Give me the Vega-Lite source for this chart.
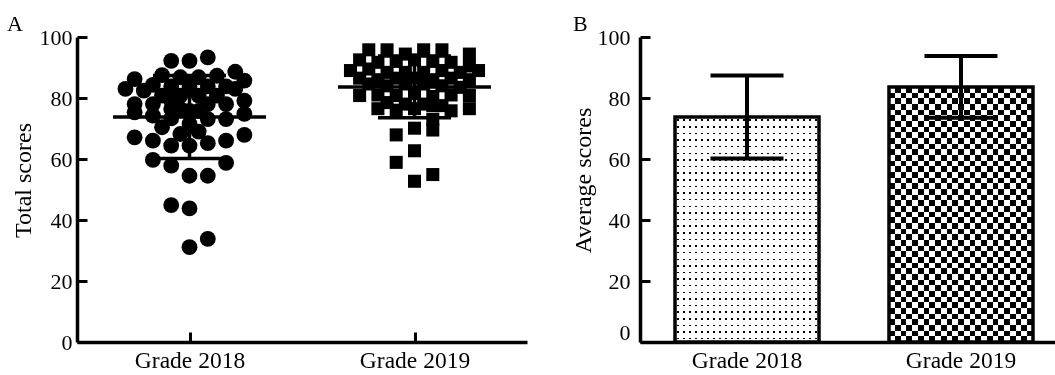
{
  "$schema": "https://vega.github.io/schema/vega-lite/v6.json",
  "background": "white",
  "padding": {"left": 7, "top": 13, "right": 0, "bottom": 0},
  "bounds": "flush",
  "spacing": 113,
  "config": {
    "font": "Liberation Serif",
    "view": {"stroke": null},
    "axis": {
      "domainColor": "black", "domainWidth": 3.5, "tickColor": "black", "tickWidth": 3, "tickSize": -10,
      "labelColor": "black", "labelFontSize": 22, "labelFont": "Liberation Serif",
      "titleFontSize": 24, "titleFontWeight": "normal", "titleColor": "black", "titleFont": "Liberation Serif",
      "grid": false, "zindex": 1
    },
    "axisX": {"labelFontSize": 23.5},
    "title": {"fontSize": 22, "fontWeight": "normal", "font": "Liberation Serif", "color": "black"}
  },
  "datasets": {
    "points": [
      {"grade": "Grade 2018", "slot": -2, "score": 92.2},
      {"grade": "Grade 2018", "slot": 0, "score": 92.2},
      {"grade": "Grade 2018", "slot": 2, "score": 93.3},
      {"grade": "Grade 2018", "slot": -3, "score": 87.5},
      {"grade": "Grade 2018", "slot": -6, "score": 86.2},
      {"grade": "Grade 2018", "slot": 5, "score": 88.6},
      {"grade": "Grade 2018", "slot": 6, "score": 85.7},
      {"grade": "Grade 2018", "slot": 3, "score": 87.3},
      {"grade": "Grade 2018", "slot": -1, "score": 86.8},
      {"grade": "Grade 2018", "slot": 1, "score": 86.8},
      {"grade": "Grade 2018", "slot": -7, "score": 83.0},
      {"grade": "Grade 2018", "slot": -5, "score": 82.4},
      {"grade": "Grade 2018", "slot": -4, "score": 84.3},
      {"grade": "Grade 2018", "slot": -2, "score": 83.8},
      {"grade": "Grade 2018", "slot": 0, "score": 83.8},
      {"grade": "Grade 2018", "slot": 2, "score": 83.8},
      {"grade": "Grade 2018", "slot": 4, "score": 83.8},
      {"grade": "Grade 2018", "slot": 5, "score": 83.0},
      {"grade": "Grade 2018", "slot": -3, "score": 80.8},
      {"grade": "Grade 2018", "slot": -1, "score": 80.8},
      {"grade": "Grade 2018", "slot": 1, "score": 80.8},
      {"grade": "Grade 2018", "slot": 3, "score": 80.8},
      {"grade": "Grade 2018", "slot": -6, "score": 78.0},
      {"grade": "Grade 2018", "slot": -4, "score": 78.0},
      {"grade": "Grade 2018", "slot": -2, "score": 79.1},
      {"grade": "Grade 2018", "slot": 2, "score": 78.0},
      {"grade": "Grade 2018", "slot": 4, "score": 78.0},
      {"grade": "Grade 2018", "slot": 6, "score": 79.1},
      {"grade": "Grade 2018", "slot": -6, "score": 75.3},
      {"grade": "Grade 2018", "slot": -4, "score": 74.2},
      {"grade": "Grade 2018", "slot": -2, "score": 76.4},
      {"grade": "Grade 2018", "slot": -1, "score": 76.4},
      {"grade": "Grade 2018", "slot": 0, "score": 75.8},
      {"grade": "Grade 2018", "slot": 1, "score": 75.8},
      {"grade": "Grade 2018", "slot": -2, "score": 73.3},
      {"grade": "Grade 2018", "slot": 2, "score": 73.1},
      {"grade": "Grade 2018", "slot": 4, "score": 73.1},
      {"grade": "Grade 2018", "slot": 6, "score": 74.8},
      {"grade": "Grade 2018", "slot": -3, "score": 70.4},
      {"grade": "Grade 2018", "slot": 0, "score": 71.5},
      {"grade": "Grade 2018", "slot": -1, "score": 68.2},
      {"grade": "Grade 2018", "slot": 1, "score": 69.0},
      {"grade": "Grade 2018", "slot": -6, "score": 67.1},
      {"grade": "Grade 2018", "slot": -4, "score": 66.0},
      {"grade": "Grade 2018", "slot": -2, "score": 64.4},
      {"grade": "Grade 2018", "slot": 0, "score": 64.4},
      {"grade": "Grade 2018", "slot": 2, "score": 65.2},
      {"grade": "Grade 2018", "slot": 4, "score": 66.0},
      {"grade": "Grade 2018", "slot": 6, "score": 67.9},
      {"grade": "Grade 2018", "slot": -4, "score": 59.7},
      {"grade": "Grade 2018", "slot": -2, "score": 57.8},
      {"grade": "Grade 2018", "slot": 4, "score": 58.7},
      {"grade": "Grade 2018", "slot": 0, "score": 54.5},
      {"grade": "Grade 2018", "slot": 2, "score": 54.5},
      {"grade": "Grade 2018", "slot": -2, "score": 44.9},
      {"grade": "Grade 2018", "slot": 0, "score": 43.8},
      {"grade": "Grade 2018", "slot": 2, "score": 33.8},
      {"grade": "Grade 2018", "slot": 0, "score": 31.1},
      {"grade": "Grade 2019", "slot": -5, "score": 95.8},
      {"grade": "Grade 2019", "slot": -3, "score": 95.8},
      {"grade": "Grade 2019", "slot": 1, "score": 95.8},
      {"grade": "Grade 2019", "slot": 3, "score": 95.8},
      {"grade": "Grade 2019", "slot": -1, "score": 94.4},
      {"grade": "Grade 2019", "slot": 6, "score": 94.4},
      {"grade": "Grade 2019", "slot": -6, "score": 92.5},
      {"grade": "Grade 2019", "slot": -4, "score": 91.7},
      {"grade": "Grade 2019", "slot": -2, "score": 92.0},
      {"grade": "Grade 2019", "slot": 0, "score": 92.5},
      {"grade": "Grade 2019", "slot": 2, "score": 92.0},
      {"grade": "Grade 2019", "slot": 4, "score": 91.7},
      {"grade": "Grade 2019", "slot": 6, "score": 90.5},
      {"grade": "Grade 2019", "slot": -7, "score": 89.0},
      {"grade": "Grade 2019", "slot": -5, "score": 89.5},
      {"grade": "Grade 2019", "slot": -3, "score": 88.4},
      {"grade": "Grade 2019", "slot": -1, "score": 88.4},
      {"grade": "Grade 2019", "slot": 1, "score": 88.4},
      {"grade": "Grade 2019", "slot": 3, "score": 89.0},
      {"grade": "Grade 2019", "slot": 5, "score": 88.4},
      {"grade": "Grade 2019", "slot": 7, "score": 89.0},
      {"grade": "Grade 2019", "slot": -6, "score": 86.5},
      {"grade": "Grade 2019", "slot": -4, "score": 86.0},
      {"grade": "Grade 2019", "slot": -2, "score": 86.5},
      {"grade": "Grade 2019", "slot": 0, "score": 86.5},
      {"grade": "Grade 2019", "slot": 2, "score": 86.0},
      {"grade": "Grade 2019", "slot": 4, "score": 86.5},
      {"grade": "Grade 2019", "slot": 6, "score": 86.0},
      {"grade": "Grade 2019", "slot": -5, "score": 84.6},
      {"grade": "Grade 2019", "slot": -3, "score": 84.0},
      {"grade": "Grade 2019", "slot": -1, "score": 84.6},
      {"grade": "Grade 2019", "slot": 1, "score": 84.6},
      {"grade": "Grade 2019", "slot": 3, "score": 84.0},
      {"grade": "Grade 2019", "slot": 5, "score": 83.5},
      {"grade": "Grade 2019", "slot": -6, "score": 80.8},
      {"grade": "Grade 2019", "slot": -4, "score": 81.0},
      {"grade": "Grade 2019", "slot": -2, "score": 80.8},
      {"grade": "Grade 2019", "slot": 0, "score": 81.5},
      {"grade": "Grade 2019", "slot": 2, "score": 80.5},
      {"grade": "Grade 2019", "slot": 4, "score": 81.0},
      {"grade": "Grade 2019", "slot": 6, "score": 80.8},
      {"grade": "Grade 2019", "slot": -3, "score": 78.5},
      {"grade": "Grade 2019", "slot": -1, "score": 78.0},
      {"grade": "Grade 2019", "slot": 1, "score": 78.0},
      {"grade": "Grade 2019", "slot": 3, "score": 77.5},
      {"grade": "Grade 2019", "slot": -4, "score": 76.5},
      {"grade": "Grade 2019", "slot": -2, "score": 76.0},
      {"grade": "Grade 2019", "slot": 0, "score": 76.5},
      {"grade": "Grade 2019", "slot": 2, "score": 77.5},
      {"grade": "Grade 2019", "slot": 4, "score": 75.8},
      {"grade": "Grade 2019", "slot": 6, "score": 76.5},
      {"grade": "Grade 2019", "slot": 2, "score": 73.0},
      {"grade": "Grade 2019", "slot": 0, "score": 70.1},
      {"grade": "Grade 2019", "slot": 2, "score": 69.5},
      {"grade": "Grade 2019", "slot": -2, "score": 67.9},
      {"grade": "Grade 2019", "slot": 0, "score": 62.7},
      {"grade": "Grade 2019", "slot": -2, "score": 58.9},
      {"grade": "Grade 2019", "slot": 2, "score": 54.9},
      {"grade": "Grade 2019", "slot": 0, "score": 52.7}
    ],
    "stats": [
      {"grade": "Grade 2018", "mean": 73.8, "lo": 60.2, "hi": 87.4},
      {"grade": "Grade 2019", "mean": 83.6, "lo": 73.5, "hi": 93.8}
    ]
  },
  "hconcat": [
    {
      "width": 450,
      "height": 305,
      "title": {"text": "A", "anchor": "start", "frame": "group", "dx": -70, "dy": 10, "offset": 0},
      "encoding": {
        "x": {"field": "grade", "type": "nominal", "scale": {"type": "point", "padding": 0.5},
              "axis": {"title": null, "labelAngle": 0, "labelPadding": 16}},
        "y": {"type": "quantitative"}
      },
      "layer": [
        {
          "data": {"name": "points"},
          "transform": [{"filter": "datum.grade === 'Grade 2018'"}],
          "mark": {"type": "point", "shape": "circle", "filled": true, "color": "black", "opacity": 1, "size": 250},
          "encoding": {
            "xOffset": {"field": "slot", "type": "quantitative", "scale": {"domain": [-12.3, 12.3], "range": [-112.5, 112.5]}},
            "y": {"field": "score", "type": "quantitative", "scale": {"domain": [0, 100]},
                  "axis": {"title": "Total scores", "values": [0, 20, 40, 60, 80, 100], "labelPadding": 15, "titleX": -42, "titleY": 143}}
          }
        },
        {
          "data": {"name": "points"},
          "transform": [{"filter": "datum.grade === 'Grade 2019'"}],
          "mark": {"type": "point", "shape": "square", "filled": true, "color": "black", "opacity": 1, "size": 170},
          "encoding": {
            "xOffset": {"field": "slot", "type": "quantitative", "scale": {"domain": [-12.3, 12.3], "range": [-112.5, 112.5]}},
            "y": {"field": "score", "type": "quantitative"}
          }
        },
        {
          "data": {"name": "stats"},
          "mark": {"type": "rule", "color": "black", "strokeWidth": 3.5},
          "encoding": {"y": {"field": "lo", "type": "quantitative"}, "y2": {"field": "hi"}}
        },
        {
          "data": {"name": "stats"},
          "mark": {"type": "tick", "color": "black", "thickness": 3.5, "size": 153, "opacity": 1},
          "encoding": {"y": {"field": "mean", "type": "quantitative"}}
        },
        {
          "data": {"name": "stats"},
          "mark": {"type": "tick", "color": "black", "thickness": 3.5, "size": 73, "opacity": 1},
          "encoding": {"y": {"field": "lo", "type": "quantitative"}}
        },
        {
          "data": {"name": "stats"},
          "mark": {"type": "tick", "color": "black", "thickness": 3.5, "size": 73, "opacity": 1},
          "encoding": {"y": {"field": "hi", "type": "quantitative"}}
        }
      ]
    },
    {
      "width": 428,
      "height": 305,
      "data": {"name": "stats"},
      "title": {"text": "B", "anchor": "start", "frame": "group", "dx": -67, "dy": 10, "offset": 0},
      "encoding": {
        "x": {"field": "grade", "type": "nominal", "scale": {"type": "band", "paddingInner": 0.327, "paddingOuter": 0.1636},
              "axis": {"title": null, "labelAngle": 0, "labelPadding": 16}},
        "y": {"field": "mean", "type": "quantitative", "scale": {"domain": [0, 100]},
              "axis": {"title": "Average scores", "values": [0, 20, 40, 60, 80, 100], "labelPadding": 20, "titleX": -45, "titleY": 143,
                       "labelOffset": {"condition": {"test": "datum.value === 0", "value": -10}, "value": 0}}}
      },
      "layer": [
        {
          "transform": [{"filter": "datum.grade === 'Grade 2018'"}],
          "mark": {"type": "bar", "width": 144, "strokeWidth": 0,
                   "fill": {"gradient": "linear", "x1": 0, "y1": 0, "x2": 1, "y2": 0, "stops": [
                     {"offset": 0.0158, "color": "white"}, {"offset": 0.0158, "color": "black"}, {"offset": 0.0258, "color": "black"}, {"offset": 0.0258, "color": "white"},
                     {"offset": 0.0575, "color": "white"}, {"offset": 0.0575, "color": "black"}, {"offset": 0.0675, "color": "black"}, {"offset": 0.0675, "color": "white"},
                     {"offset": 0.0992, "color": "white"}, {"offset": 0.0992, "color": "black"}, {"offset": 0.1092, "color": "black"}, {"offset": 0.1092, "color": "white"},
                     {"offset": 0.1408, "color": "white"}, {"offset": 0.1408, "color": "black"}, {"offset": 0.1508, "color": "black"}, {"offset": 0.1508, "color": "white"},
                     {"offset": 0.1825, "color": "white"}, {"offset": 0.1825, "color": "black"}, {"offset": 0.1925, "color": "black"}, {"offset": 0.1925, "color": "white"},
                     {"offset": 0.2242, "color": "white"}, {"offset": 0.2242, "color": "black"}, {"offset": 0.2342, "color": "black"}, {"offset": 0.2342, "color": "white"},
                     {"offset": 0.2658, "color": "white"}, {"offset": 0.2658, "color": "black"}, {"offset": 0.2758, "color": "black"}, {"offset": 0.2758, "color": "white"},
                     {"offset": 0.3075, "color": "white"}, {"offset": 0.3075, "color": "black"}, {"offset": 0.3175, "color": "black"}, {"offset": 0.3175, "color": "white"},
                     {"offset": 0.3492, "color": "white"}, {"offset": 0.3492, "color": "black"}, {"offset": 0.3592, "color": "black"}, {"offset": 0.3592, "color": "white"},
                     {"offset": 0.3908, "color": "white"}, {"offset": 0.3908, "color": "black"}, {"offset": 0.4008, "color": "black"}, {"offset": 0.4008, "color": "white"},
                     {"offset": 0.4325, "color": "white"}, {"offset": 0.4325, "color": "black"}, {"offset": 0.4425, "color": "black"}, {"offset": 0.4425, "color": "white"},
                     {"offset": 0.4742, "color": "white"}, {"offset": 0.4742, "color": "black"}, {"offset": 0.4842, "color": "black"}, {"offset": 0.4842, "color": "white"},
                     {"offset": 0.5158, "color": "white"}, {"offset": 0.5158, "color": "black"}, {"offset": 0.5258, "color": "black"}, {"offset": 0.5258, "color": "white"},
                     {"offset": 0.5575, "color": "white"}, {"offset": 0.5575, "color": "black"}, {"offset": 0.5675, "color": "black"}, {"offset": 0.5675, "color": "white"},
                     {"offset": 0.5992, "color": "white"}, {"offset": 0.5992, "color": "black"}, {"offset": 0.6092, "color": "black"}, {"offset": 0.6092, "color": "white"},
                     {"offset": 0.6408, "color": "white"}, {"offset": 0.6408, "color": "black"}, {"offset": 0.6508, "color": "black"}, {"offset": 0.6508, "color": "white"},
                     {"offset": 0.6825, "color": "white"}, {"offset": 0.6825, "color": "black"}, {"offset": 0.6925, "color": "black"}, {"offset": 0.6925, "color": "white"},
                     {"offset": 0.7242, "color": "white"}, {"offset": 0.7242, "color": "black"}, {"offset": 0.7342, "color": "black"}, {"offset": 0.7342, "color": "white"},
                     {"offset": 0.7658, "color": "white"}, {"offset": 0.7658, "color": "black"}, {"offset": 0.7758, "color": "black"}, {"offset": 0.7758, "color": "white"},
                     {"offset": 0.8075, "color": "white"}, {"offset": 0.8075, "color": "black"}, {"offset": 0.8175, "color": "black"}, {"offset": 0.8175, "color": "white"},
                     {"offset": 0.8492, "color": "white"}, {"offset": 0.8492, "color": "black"}, {"offset": 0.8592, "color": "black"}, {"offset": 0.8592, "color": "white"},
                     {"offset": 0.8908, "color": "white"}, {"offset": 0.8908, "color": "black"}, {"offset": 0.9008, "color": "black"}, {"offset": 0.9008, "color": "white"},
                     {"offset": 0.9325, "color": "white"}, {"offset": 0.9325, "color": "black"}, {"offset": 0.9425, "color": "black"}, {"offset": 0.9425, "color": "white"},
                     {"offset": 0.9742, "color": "white"}, {"offset": 0.9742, "color": "black"}, {"offset": 0.9842, "color": "black"}, {"offset": 0.9842, "color": "white"}
                   ]}}
        },
        {
          "transform": [{"filter": "datum.grade === 'Grade 2018'"}],
          "mark": {"type": "bar", "width": 144, "strokeWidth": 0, "blend": "lighten",
                   "fill": {"gradient": "linear", "x1": 0, "y1": 0, "x2": 0, "y2": 1, "stops": [
                     {"offset": 0.0114, "color": "white"}, {"offset": 0.0114, "color": "black"}, {"offset": 0.0180, "color": "black"}, {"offset": 0.0180, "color": "white"},
                     {"offset": 0.0408, "color": "white"}, {"offset": 0.0408, "color": "black"}, {"offset": 0.0474, "color": "black"}, {"offset": 0.0474, "color": "white"},
                     {"offset": 0.0702, "color": "white"}, {"offset": 0.0702, "color": "black"}, {"offset": 0.0768, "color": "black"}, {"offset": 0.0768, "color": "white"},
                     {"offset": 0.0996, "color": "white"}, {"offset": 0.0996, "color": "black"}, {"offset": 0.1062, "color": "black"}, {"offset": 0.1062, "color": "white"},
                     {"offset": 0.1291, "color": "white"}, {"offset": 0.1291, "color": "black"}, {"offset": 0.1357, "color": "black"}, {"offset": 0.1357, "color": "white"},
                     {"offset": 0.1585, "color": "white"}, {"offset": 0.1585, "color": "black"}, {"offset": 0.1651, "color": "black"}, {"offset": 0.1651, "color": "white"},
                     {"offset": 0.1879, "color": "white"}, {"offset": 0.1879, "color": "black"}, {"offset": 0.1945, "color": "black"}, {"offset": 0.1945, "color": "white"},
                     {"offset": 0.2173, "color": "white"}, {"offset": 0.2173, "color": "black"}, {"offset": 0.2239, "color": "black"}, {"offset": 0.2239, "color": "white"},
                     {"offset": 0.2467, "color": "white"}, {"offset": 0.2467, "color": "black"}, {"offset": 0.2533, "color": "black"}, {"offset": 0.2533, "color": "white"},
                     {"offset": 0.2761, "color": "white"}, {"offset": 0.2761, "color": "black"}, {"offset": 0.2827, "color": "black"}, {"offset": 0.2827, "color": "white"},
                     {"offset": 0.3055, "color": "white"}, {"offset": 0.3055, "color": "black"}, {"offset": 0.3121, "color": "black"}, {"offset": 0.3121, "color": "white"},
                     {"offset": 0.3349, "color": "white"}, {"offset": 0.3349, "color": "black"}, {"offset": 0.3415, "color": "black"}, {"offset": 0.3415, "color": "white"},
                     {"offset": 0.3643, "color": "white"}, {"offset": 0.3643, "color": "black"}, {"offset": 0.3709, "color": "black"}, {"offset": 0.3709, "color": "white"},
                     {"offset": 0.3938, "color": "white"}, {"offset": 0.3938, "color": "black"}, {"offset": 0.4004, "color": "black"}, {"offset": 0.4004, "color": "white"},
                     {"offset": 0.4232, "color": "white"}, {"offset": 0.4232, "color": "black"}, {"offset": 0.4298, "color": "black"}, {"offset": 0.4298, "color": "white"},
                     {"offset": 0.4526, "color": "white"}, {"offset": 0.4526, "color": "black"}, {"offset": 0.4592, "color": "black"}, {"offset": 0.4592, "color": "white"},
                     {"offset": 0.4820, "color": "white"}, {"offset": 0.4820, "color": "black"}, {"offset": 0.4886, "color": "black"}, {"offset": 0.4886, "color": "white"},
                     {"offset": 0.5114, "color": "white"}, {"offset": 0.5114, "color": "black"}, {"offset": 0.5180, "color": "black"}, {"offset": 0.5180, "color": "white"},
                     {"offset": 0.5408, "color": "white"}, {"offset": 0.5408, "color": "black"}, {"offset": 0.5474, "color": "black"}, {"offset": 0.5474, "color": "white"},
                     {"offset": 0.5702, "color": "white"}, {"offset": 0.5702, "color": "black"}, {"offset": 0.5768, "color": "black"}, {"offset": 0.5768, "color": "white"},
                     {"offset": 0.5996, "color": "white"}, {"offset": 0.5996, "color": "black"}, {"offset": 0.6062, "color": "black"}, {"offset": 0.6062, "color": "white"},
                     {"offset": 0.6291, "color": "white"}, {"offset": 0.6291, "color": "black"}, {"offset": 0.6357, "color": "black"}, {"offset": 0.6357, "color": "white"},
                     {"offset": 0.6585, "color": "white"}, {"offset": 0.6585, "color": "black"}, {"offset": 0.6651, "color": "black"}, {"offset": 0.6651, "color": "white"},
                     {"offset": 0.6879, "color": "white"}, {"offset": 0.6879, "color": "black"}, {"offset": 0.6945, "color": "black"}, {"offset": 0.6945, "color": "white"},
                     {"offset": 0.7173, "color": "white"}, {"offset": 0.7173, "color": "black"}, {"offset": 0.7239, "color": "black"}, {"offset": 0.7239, "color": "white"},
                     {"offset": 0.7467, "color": "white"}, {"offset": 0.7467, "color": "black"}, {"offset": 0.7533, "color": "black"}, {"offset": 0.7533, "color": "white"},
                     {"offset": 0.7761, "color": "white"}, {"offset": 0.7761, "color": "black"}, {"offset": 0.7827, "color": "black"}, {"offset": 0.7827, "color": "white"},
                     {"offset": 0.8055, "color": "white"}, {"offset": 0.8055, "color": "black"}, {"offset": 0.8121, "color": "black"}, {"offset": 0.8121, "color": "white"},
                     {"offset": 0.8349, "color": "white"}, {"offset": 0.8349, "color": "black"}, {"offset": 0.8415, "color": "black"}, {"offset": 0.8415, "color": "white"},
                     {"offset": 0.8643, "color": "white"}, {"offset": 0.8643, "color": "black"}, {"offset": 0.8709, "color": "black"}, {"offset": 0.8709, "color": "white"},
                     {"offset": 0.8938, "color": "white"}, {"offset": 0.8938, "color": "black"}, {"offset": 0.9004, "color": "black"}, {"offset": 0.9004, "color": "white"},
                     {"offset": 0.9232, "color": "white"}, {"offset": 0.9232, "color": "black"}, {"offset": 0.9298, "color": "black"}, {"offset": 0.9298, "color": "white"},
                     {"offset": 0.9526, "color": "white"}, {"offset": 0.9526, "color": "black"}, {"offset": 0.9592, "color": "black"}, {"offset": 0.9592, "color": "white"},
                     {"offset": 0.9820, "color": "white"}, {"offset": 0.9820, "color": "black"}, {"offset": 0.9886, "color": "black"}, {"offset": 0.9886, "color": "white"}
                   ]}}
        },
        {
          "transform": [{"filter": "datum.grade === 'Grade 2019'"}],
          "mark": {"type": "bar", "width": 144, "strokeWidth": 0,
                   "fill": {"gradient": "linear", "x1": 0, "y1": 0, "x2": 1, "y2": 0, "stops": [
                     {"offset": 0, "color": "black"}, {"offset": 0.04, "color": "black"}, {"offset": 0.04, "color": "white"}, {"offset": 0.08, "color": "white"},
                     {"offset": 0.08, "color": "black"}, {"offset": 0.12, "color": "black"}, {"offset": 0.12, "color": "white"}, {"offset": 0.16, "color": "white"},
                     {"offset": 0.16, "color": "black"}, {"offset": 0.20, "color": "black"}, {"offset": 0.20, "color": "white"}, {"offset": 0.24, "color": "white"},
                     {"offset": 0.24, "color": "black"}, {"offset": 0.28, "color": "black"}, {"offset": 0.28, "color": "white"}, {"offset": 0.32, "color": "white"},
                     {"offset": 0.32, "color": "black"}, {"offset": 0.36, "color": "black"}, {"offset": 0.36, "color": "white"}, {"offset": 0.40, "color": "white"},
                     {"offset": 0.40, "color": "black"}, {"offset": 0.44, "color": "black"}, {"offset": 0.44, "color": "white"}, {"offset": 0.48, "color": "white"},
                     {"offset": 0.48, "color": "black"}, {"offset": 0.52, "color": "black"}, {"offset": 0.52, "color": "white"}, {"offset": 0.56, "color": "white"},
                     {"offset": 0.56, "color": "black"}, {"offset": 0.60, "color": "black"}, {"offset": 0.60, "color": "white"}, {"offset": 0.64, "color": "white"},
                     {"offset": 0.64, "color": "black"}, {"offset": 0.68, "color": "black"}, {"offset": 0.68, "color": "white"}, {"offset": 0.72, "color": "white"},
                     {"offset": 0.72, "color": "black"}, {"offset": 0.76, "color": "black"}, {"offset": 0.76, "color": "white"}, {"offset": 0.80, "color": "white"},
                     {"offset": 0.80, "color": "black"}, {"offset": 0.84, "color": "black"}, {"offset": 0.84, "color": "white"}, {"offset": 0.88, "color": "white"},
                     {"offset": 0.88, "color": "black"}, {"offset": 0.92, "color": "black"}, {"offset": 0.92, "color": "white"}, {"offset": 0.96, "color": "white"},
                     {"offset": 0.96, "color": "black"}, {"offset": 1, "color": "black"}
                   ]}}
        },
        {
          "transform": [{"filter": "datum.grade === 'Grade 2019'"}],
          "mark": {"type": "bar", "width": 144, "strokeWidth": 0, "blend": "difference",
                   "fill": {"gradient": "linear", "x1": 0, "y1": 0, "x2": 0, "y2": 1, "stops": [
                     {"offset": 0, "color": "white"}, {"offset": 0.0222, "color": "white"}, {"offset": 0.0222, "color": "black"}, {"offset": 0.0444, "color": "black"},
                     {"offset": 0.0444, "color": "white"}, {"offset": 0.0667, "color": "white"}, {"offset": 0.0667, "color": "black"}, {"offset": 0.0889, "color": "black"},
                     {"offset": 0.0889, "color": "white"}, {"offset": 0.1111, "color": "white"}, {"offset": 0.1111, "color": "black"}, {"offset": 0.1333, "color": "black"},
                     {"offset": 0.1333, "color": "white"}, {"offset": 0.1556, "color": "white"}, {"offset": 0.1556, "color": "black"}, {"offset": 0.1778, "color": "black"},
                     {"offset": 0.1778, "color": "white"}, {"offset": 0.2, "color": "white"}, {"offset": 0.2, "color": "black"}, {"offset": 0.2222, "color": "black"},
                     {"offset": 0.2222, "color": "white"}, {"offset": 0.2444, "color": "white"}, {"offset": 0.2444, "color": "black"}, {"offset": 0.2667, "color": "black"},
                     {"offset": 0.2667, "color": "white"}, {"offset": 0.2889, "color": "white"}, {"offset": 0.2889, "color": "black"}, {"offset": 0.3111, "color": "black"},
                     {"offset": 0.3111, "color": "white"}, {"offset": 0.3333, "color": "white"}, {"offset": 0.3333, "color": "black"}, {"offset": 0.3556, "color": "black"},
                     {"offset": 0.3556, "color": "white"}, {"offset": 0.3778, "color": "white"}, {"offset": 0.3778, "color": "black"}, {"offset": 0.4, "color": "black"},
                     {"offset": 0.4, "color": "white"}, {"offset": 0.4222, "color": "white"}, {"offset": 0.4222, "color": "black"}, {"offset": 0.4444, "color": "black"},
                     {"offset": 0.4444, "color": "white"}, {"offset": 0.4667, "color": "white"}, {"offset": 0.4667, "color": "black"}, {"offset": 0.4889, "color": "black"},
                     {"offset": 0.4889, "color": "white"}, {"offset": 0.5111, "color": "white"}, {"offset": 0.5111, "color": "black"}, {"offset": 0.5333, "color": "black"},
                     {"offset": 0.5333, "color": "white"}, {"offset": 0.5556, "color": "white"}, {"offset": 0.5556, "color": "black"}, {"offset": 0.5778, "color": "black"},
                     {"offset": 0.5778, "color": "white"}, {"offset": 0.6, "color": "white"}, {"offset": 0.6, "color": "black"}, {"offset": 0.6222, "color": "black"},
                     {"offset": 0.6222, "color": "white"}, {"offset": 0.6444, "color": "white"}, {"offset": 0.6444, "color": "black"}, {"offset": 0.6667, "color": "black"},
                     {"offset": 0.6667, "color": "white"}, {"offset": 0.6889, "color": "white"}, {"offset": 0.6889, "color": "black"}, {"offset": 0.7111, "color": "black"},
                     {"offset": 0.7111, "color": "white"}, {"offset": 0.7333, "color": "white"}, {"offset": 0.7333, "color": "black"}, {"offset": 0.7556, "color": "black"},
                     {"offset": 0.7556, "color": "white"}, {"offset": 0.7778, "color": "white"}, {"offset": 0.7778, "color": "black"}, {"offset": 0.8, "color": "black"},
                     {"offset": 0.8, "color": "white"}, {"offset": 0.8222, "color": "white"}, {"offset": 0.8222, "color": "black"}, {"offset": 0.8444, "color": "black"},
                     {"offset": 0.8444, "color": "white"}, {"offset": 0.8667, "color": "white"}, {"offset": 0.8667, "color": "black"}, {"offset": 0.8889, "color": "black"},
                     {"offset": 0.8889, "color": "white"}, {"offset": 0.9111, "color": "white"}, {"offset": 0.9111, "color": "black"}, {"offset": 0.9333, "color": "black"},
                     {"offset": 0.9333, "color": "white"}, {"offset": 0.9556, "color": "white"}, {"offset": 0.9556, "color": "black"}, {"offset": 0.9778, "color": "black"},
                     {"offset": 0.9778, "color": "white"}, {"offset": 1, "color": "white"}
                   ]}}
        },
        {
          "mark": {"type": "bar", "width": 144, "fillOpacity": 0, "fill": "white", "stroke": "black", "strokeWidth": 3.5}
        },
        {
          "mark": {"type": "rule", "color": "black", "strokeWidth": 4},
          "encoding": {"y": {"field": "lo", "type": "quantitative"}, "y2": {"field": "hi"}}
        },
        {
          "mark": {"type": "tick", "color": "black", "thickness": 4, "size": 73, "opacity": 1},
          "encoding": {"y": {"field": "lo", "type": "quantitative"}}
        },
        {
          "mark": {"type": "tick", "color": "black", "thickness": 4, "size": 73, "opacity": 1},
          "encoding": {"y": {"field": "hi", "type": "quantitative"}}
        }
      ]
    }
  ]
}
